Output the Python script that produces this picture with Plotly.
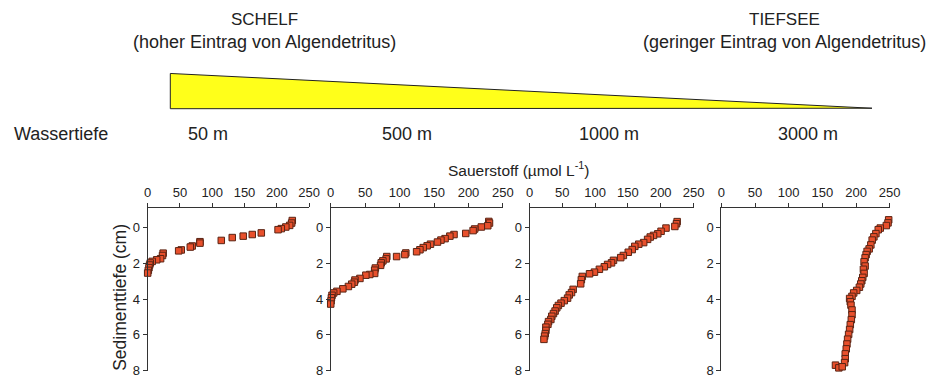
import plotly.graph_objects as go

# ---- data ----
o2_50 = [224, 223, 220, 214, 207, 202, 176, 162, 148, 131, 114, 81, 81, 69, 66, 52, 48, 24, 23, 20, 14, 7, 4, 3, 2, 1, 0]
d_50 = [-0.38, -0.24, -0.11, -0.02, 0.07, 0.13, 0.31, 0.40, 0.49, 0.57, 0.73, 0.80, 0.88, 1.04, 1.10, 1.26, 1.31, 1.44, 1.57, 1.75, 1.81, 1.90, 1.99, 2.10, 2.25, 2.40, 2.55]

o2_500 = [229.5, 230.5, 228, 218.6, 209, 206.7, 196, 179, 173, 166, 160, 155, 144.8, 140, 134.3, 129.5, 124.7, 109, 107.6, 95.7, 81.4, 80.5, 75.7, 73.3, 72.4, 64.8, 63.8, 63.8, 56.7, 51, 42.4, 35.2, 34.3, 30.5, 25.7, 17.6, 9, 4.3, 1.9, 1, 0.5, 0]
d_500 = [-0.33, -0.24, -0.09, -0.02, 0.09, 0.18, 0.34, 0.40, 0.49, 0.63, 0.71, 0.82, 0.94, 1.03, 1.13, 1.25, 1.36, 1.43, 1.52, 1.63, 1.63, 1.76, 1.87, 1.98, 2.12, 2.27, 2.39, 2.57, 2.63, 2.67, 2.85, 2.94, 3.06, 3.17, 3.30, 3.43, 3.57, 3.66, 3.79, 3.93, 4.10, 4.28]

o2_1000 = [225, 224, 221.5, 208, 200.5, 195.5, 189, 184, 180, 174, 166.5, 160.5, 156.5, 150.5, 143, 139, 128, 125, 119, 114, 106.5, 99, 91.5, 80.5, 79, 78, 66.5, 64, 60.5, 58, 53, 48, 44, 41.5, 39, 36.5, 34, 32.5, 29, 28, 25, 25, 24, 23, 22]
d_1000 = [-0.32, -0.20, -0.05, 0.04, 0.22, 0.36, 0.45, 0.54, 0.67, 0.85, 0.94, 1.06, 1.24, 1.39, 1.57, 1.69, 1.84, 1.98, 2.07, 2.20, 2.34, 2.50, 2.59, 2.74, 2.92, 3.15, 3.46, 3.64, 3.77, 3.95, 4.09, 4.23, 4.36, 4.49, 4.67, 4.81, 4.96, 5.14, 5.26, 5.41, 5.57, 5.75, 5.93, 6.07, 6.25]

o2_3000 = [248.5, 247.5, 245, 236, 233, 229.5, 226.5, 224, 222, 219.5, 216.5, 215, 213.5, 212, 213.5, 211, 212, 210, 208.5, 207, 205, 201, 196.5, 194, 190.5, 191.5, 192.5, 194, 194, 193, 191.5, 190.5, 189, 187.5, 186.5, 185.5, 184, 184, 183, 169.5, 174.5, 179.5]
d_3000 = [-0.42, -0.25, -0.10, 0.04, 0.13, 0.35, 0.53, 0.71, 0.98, 1.20, 1.34, 1.52, 1.70, 1.92, 2.16, 2.34, 2.57, 2.79, 2.98, 3.16, 3.34, 3.52, 3.66, 3.85, 3.97, 4.15, 4.34, 4.61, 4.88, 5.15, 5.43, 5.70, 5.97, 6.24, 6.51, 6.78, 7.06, 7.33, 7.55, 7.69, 7.84, 7.78]

panels = [(o2_50, d_50), (o2_500, d_500), (o2_1000, d_1000), (o2_3000, d_3000)]
depth_labels = ["50 m", "500 m", "1000 m", "3000 m"]
x_ticks = [0, 50, 100, 150, 200, 250]
y_ticks = [0, 2, 4, 6, 8]

W, H = 943, 389
def px(x):
    return x / W
def py(y):
    return 1 - y / H

x_domains = [(146, 310), (332, 507), (534, 700.7), (729, 900)]
y_dom = [py(378.5), py(212)]

FONT = "Liberation Sans, Arial, sans-serif"
TXT = "#222222"

fig = go.Figure()
layout = dict(
    width=W, height=H,
    margin=dict(l=0, r=0, t=0, b=0),
    paper_bgcolor="white", plot_bgcolor="white",
    showlegend=False,
    font=dict(family=FONT, color=TXT, size=13),
)

for i, (xv, yv) in enumerate(panels):
    n = i + 1
    xa = "x" if n == 1 else f"x{n}"
    ya = "y" if n == 1 else f"y{n}"
    fig.add_trace(go.Scatter(
        x=xv, y=yv, mode="markers", xaxis=xa, yaxis=ya, cliponaxis=False,
        marker=dict(symbol="square", size=6.5, color="#e8502c",
                    line=dict(color="#5a2414", width=1)),
    ))
    xd = x_domains[i]
    layout[f"xaxis{'' if n == 1 else n}"] = dict(
        domain=[px(xd[0]), px(xd[1])], range=[0, 250], side="top",
        anchor=ya, showline=True, linecolor="#333", linewidth=1,
        ticks="outside", ticklen=4, tickcolor="#333", tickvals=x_ticks,
        showgrid=False, zeroline=False, tickfont=dict(size=13, color=TXT),
    )
    layout[f"yaxis{'' if n == 1 else n}"] = dict(
        domain=y_dom, range=[8, -1.1], anchor=xa,
        showline=True, linecolor="#333", linewidth=1,
        ticks="outside", ticklen=4, tickcolor="#333", tickvals=y_ticks,
        showgrid=False, zeroline=False, tickfont=dict(size=13, color=TXT),
    )

fig.update_layout(**layout)

# wedge (detritus input)
fig.add_shape(type="path", xref="paper", yref="paper",
              path=f"M {px(169)},{py(75)} L {px(882)},{py(110.5)} L {px(169)},{py(111)} Z",
              fillcolor="#ffff1a", line=dict(color="#222", width=1))

def ann(text, x, y, size=18, xanchor="center", textangle=0):
    fig.add_annotation(text=text, x=px(x), y=py(y), xref="paper", yref="paper",
                       showarrow=False, xanchor=xanchor, yanchor="middle",
                       textangle=textangle, font=dict(size=size, color=TXT, family=FONT))

ann("SCHELF", 265, 20, size=17)
ann("(hoher Eintrag von Algendetritus)", 265, 43)
ann("TIEFSEE", 793, 20, size=17)
ann("(geringer Eintrag von Algendetritus)", 793, 43)
ann("Wassertiefe", 8, 137, xanchor="left")
for lbl, cx in zip(depth_labels, [207, 410, 615, 817]):
    ann(lbl, cx, 137)
ann("Sauerstoff (µmol L<sup>-1</sup>)", 523, 173, size=15.5)
ann("Sedimenttiefe (cm)", 118, 304, size=17.5, textangle=-90)

fig.write_html("out.html")
